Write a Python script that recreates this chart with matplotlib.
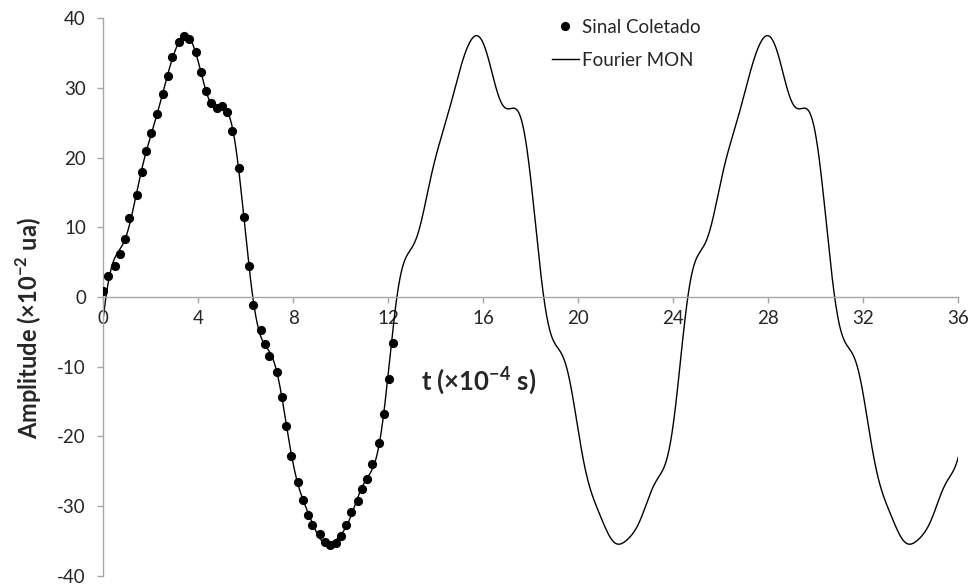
import numpy as np
import matplotlib
matplotlib.use("Agg")
import matplotlib.pyplot as plt

# Collected signal: time (x10^-4 s) and amplitude (x10^-2 ua)
t_sinal = [0.00, 0.21, 0.49, 0.70, 0.91, 1.08, 1.42, 1.62, 1.80, 2.01,
           2.27, 2.50, 2.71, 2.91, 3.19, 3.40, 3.63, 3.90, 4.11, 4.31,
           4.52, 4.80, 5.01, 5.21, 5.42, 5.72, 5.93, 6.13, 6.31, 6.63,
           6.83, 6.99, 7.33, 7.52, 7.71, 7.92, 8.22, 8.41, 8.61, 8.81,
           9.11, 9.33, 9.53, 9.79, 10.03, 10.20, 10.43, 10.72, 10.91, 11.12,
           11.31, 11.62, 11.81, 12.02, 12.22]
a_sinal = [0.9, 3.0, 4.5, 6.2, 8.4, 11.3, 14.6, 17.9, 21.0, 23.6,
           26.3, 29.1, 31.8, 34.4, 36.6, 37.5, 37.1, 35.2, 32.3, 29.6,
           27.8, 27.2, 27.4, 26.6, 23.8, 18.5, 11.5, 4.4, -1.2, -4.8,
           -6.8, -8.5, -10.8, -14.3, -18.5, -22.9, -26.5, -29.1, -31.3, -32.8,
           -34.1, -35.2, -35.6, -35.3, -34.3, -32.7, -30.9, -29.3, -27.6, -26.1,
           -24.0, -20.9, -16.8, -11.8, -6.6]

# Fourier model settings
periodo = 12.25
n_harmonicos = 10
t_max = 36

x_ticks = [0, 4, 8, 12, 16, 20, 24, 28, 32, 36]
y_ticks = [-40, -30, -20, -10, 0, 10, 20, 30, 40]

# Least-squares Fourier series fitted to the collected signal
t_arr = np.asarray(t_sinal)
a_arr = np.asarray(a_sinal)


def base(t):
    cols = [np.ones_like(t)]
    for k in range(1, n_harmonicos + 1):
        w = 2 * np.pi * k / periodo
        cols.append(np.cos(w * t))
        cols.append(np.sin(w * t))
    return np.column_stack(cols)


coef, *_ = np.linalg.lstsq(base(t_arr), a_arr, rcond=None)
t_fourier = np.linspace(0, t_max, 3000)
a_fourier = base(t_fourier) @ coef

plt.rcParams["font.family"] = ["Lato", "DejaVu Sans"]
plt.rcParams["mathtext.fontset"] = "custom"
plt.rcParams["mathtext.rm"] = "Lato"
plt.rcParams["mathtext.bf"] = "Lato:bold"
plt.rcParams["axes.unicode_minus"] = False

fig = plt.figure(figsize=(9.76, 5.87), dpi=100)
ax = fig.add_axes([0.1058, 0.0195, 0.876, 0.949])

grey = "#a6a6a6"
txt = "#262626"

ax.plot(t_fourier, a_fourier, color="black", lw=1.0, label="Fourier MON", zorder=2)
ax.plot(t_sinal, a_sinal, "o", color="black", ms=5.6, label="Sinal Coletado", zorder=3)

ax.set_xlim(0, t_max)
ax.set_ylim(-40, 40)
ax.set_xticks(x_ticks)
ax.set_yticks(y_ticks)

for s in ("top", "right"):
    ax.spines[s].set_visible(False)
ax.spines["bottom"].set_position(("data", 0))
for s in ("left", "bottom"):
    ax.spines[s].set_color(grey)
    ax.spines[s].set_linewidth(1.0)

ax.tick_params(axis="both", direction="out", length=4.5, width=1.0, color=grey,
               labelsize=13.5, labelcolor=txt)
ax.tick_params(axis="y", pad=8)
ax.tick_params(axis="x", pad=5)

ax.text(0.4385, 0.35, r"t (×10$^{\mathbf{-4}}$ s)", transform=ax.transAxes,
        fontsize=18.5, fontweight="bold", color=txt, ha="center", va="center")
fig.text(0.029, 0.441, r"Amplitude (×10$^{\mathbf{-2}}$ ua)", rotation=90,
         fontsize=17, fontweight="bold", color=txt, ha="center", va="center")

handles, labels = ax.get_legend_handles_labels()
leg = ax.legend(handles[::-1], labels[::-1], loc="upper left",
                bbox_to_anchor=(0.505, 1.03), frameon=False, fontsize=13.5,
                handlelength=1.45, handletextpad=0.15, labelspacing=0.85,
                labelcolor=txt)

fig.savefig("out.png", dpi=100)
